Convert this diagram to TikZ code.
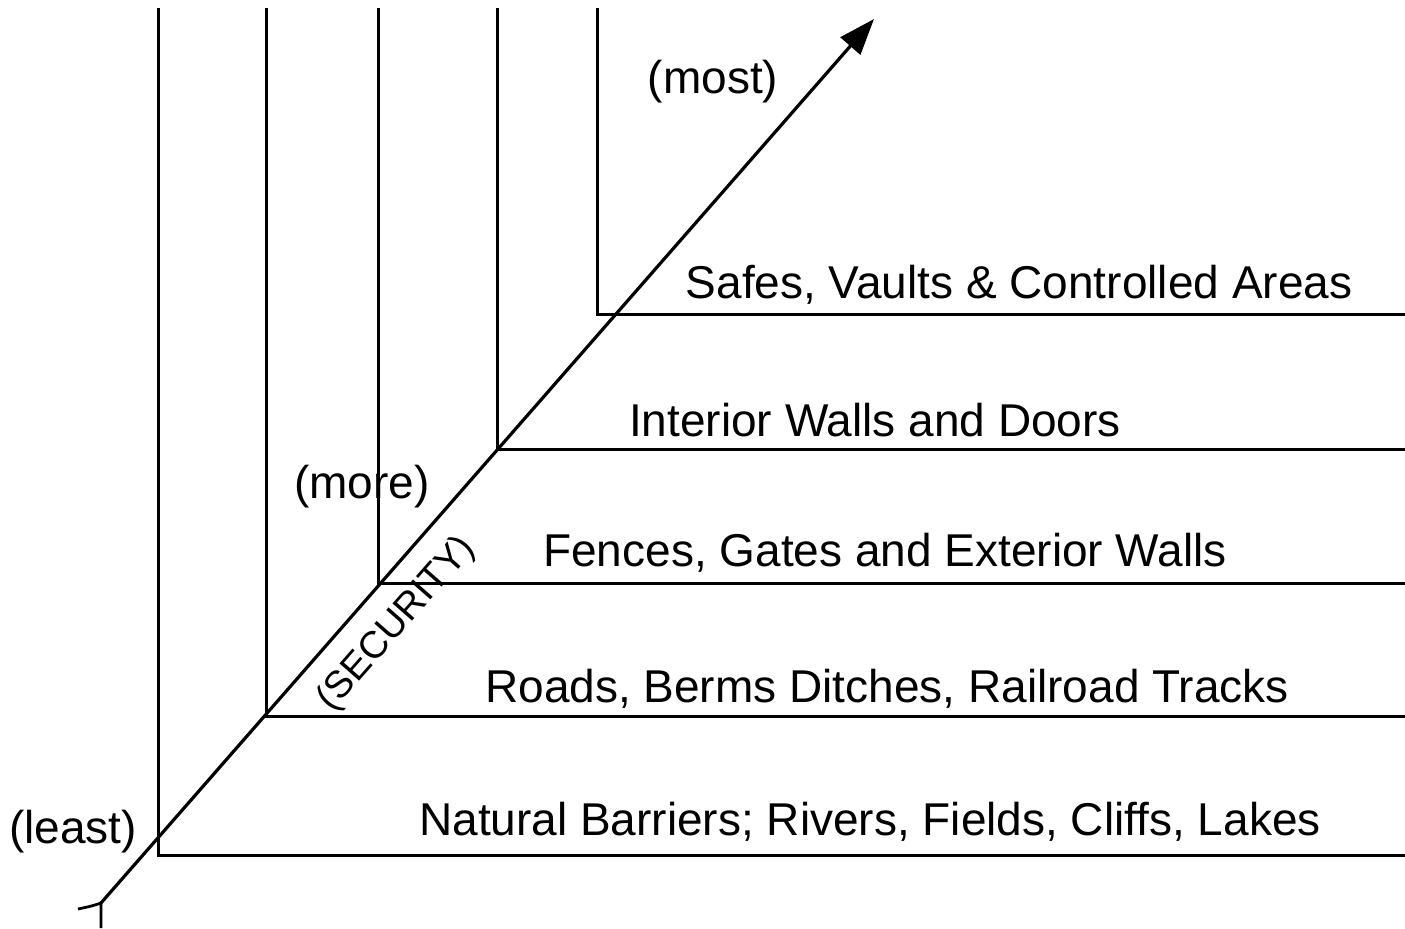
\documentclass[tikz,border=0pt]{standalone}
\usepackage{fontspec}
\setmainfont{Liberation Sans}
\usetikzlibrary{arrows.meta}
\begin{document}
\begin{tikzpicture}[x=0.5pt,y=-0.5pt,
  wall/.style={line width=1.5pt,line cap=butt},
  axis/.style={line width=1.6pt,-{Triangle[length=18pt,width=13pt]}},
  lbl/.style={font=\fontsize{23}{27}\selectfont,inner sep=0pt},
  seclbl/.style={font=\fontsize{19}{23}\selectfont,inner sep=0pt,rotate=48.7}]
\useasboundingbox (0,0) rectangle (1405,928);
% corners and top ends
\coordinate (c1) at (158,855); \coordinate (t1) at (158,8);
\coordinate (c2) at (266,716); \coordinate (t2) at (266,8);
\coordinate (c3) at (378,583); \coordinate (t3) at (378,8);
\coordinate (c4) at (497,449); \coordinate (t4) at (497,8);
\coordinate (c5) at (597,314); \coordinate (t5) at (597,8);
\coordinate (r1) at (1405,855);
\coordinate (r2) at (1405,716);
\coordinate (r3) at (1405,583);
\coordinate (r4) at (1405,449);
\coordinate (r5) at (1405,314);
\draw[wall] (t1) -- (c1) -- (r1);
\draw[wall] (t2) -- (c2) -- (r2);
\draw[wall] (t3) -- (c3) -- (r3);
\draw[wall] (t4) -- (c4) -- (r4);
\draw[wall] (t5) -- (c5) -- (r5);
% axis
\coordinate (tail) at (101,903);
\coordinate (tip) at (874,19);
\coordinate (tailL) at (78,909);
\coordinate (tailD) at (101,928);
\draw[axis] (tail) -- (tip);
\draw[line width=1.4pt] (tailL) .. controls (92,906) .. (tail) -- (tailD);
% labels
\node[lbl] (least) at (73,832) {(least)};
\node[lbl] (more) at (362,487) {(more)};
\node[lbl] (most) at (713,82) {(most)};
\node[lbl] (l1) at (870,822) {Natural Barriers; Rivers, Fields, Cliffs, Lakes};
\node[lbl] (l2) at (887,689) {Roads, Berms Ditches, Railroad Tracks};
\node[lbl] (l3) at (885,553) {Fences, Gates and Exterior Walls};
\node[lbl] (l4) at (875,420) {Interior Walls and Doors};
\node[lbl] (l5) at (1019,285) {Safes, Vaults \& Controlled Areas};
\node[seclbl] (sec) at (397,624) {(SECURITY)};
\end{tikzpicture}
\end{document}
